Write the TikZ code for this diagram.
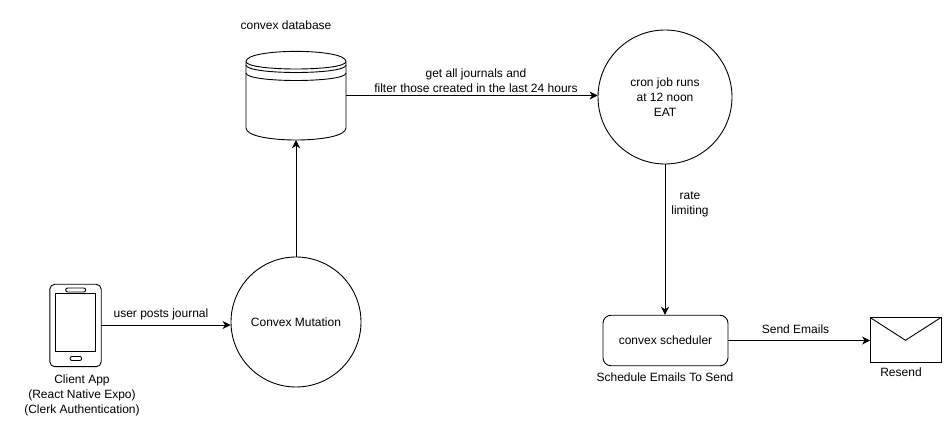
\documentclass[tikz,border=0pt]{standalone}
\usepackage{fontspec}
\setmainfont{Liberation Sans}
\usetikzlibrary{arrows.meta}
\tikzset{
	x=1pt, y=-1pt,
	every node/.style={font=\fontsize{12}{14.8}\selectfont, align=center, inner sep=0pt},
	flow/.style={-{Stealth[length=8pt,width=8pt,inset=2.5pt]}, line width=0.9pt},
	outline/.style={line width=0.9pt},
	roundcircle/.style={circle, draw, line width=0.9pt, minimum size=#1},
	blank/.style={minimum width=#1, rectangle},
}
\begin{document}
\begin{tikzpicture}
	\useasboundingbox (0,0) rectangle (951,435);

	% phone
	\node[blank=51pt, minimum height=82pt] (phone) at (75.5,325.5) {};
	\draw[outline, rounded corners=5pt] (phone.north west) rectangle (phone.south east);
	\draw[outline] (55.3,293.5) rectangle (95.7,351);
	\draw[outline, rounded corners=2pt] (65.7,288) rectangle (85.7,292);
	\draw[outline, rounded corners=2pt] (70,356.5) rectangle (81.7,360.5);
	\node (phonelabel) at (82,395.5) {Client App\\(React Native Expo)\\(Clerk Authentication)};

	% database
	\node[blank=100pt, minimum height=89pt] (db) at (296,95.5) {};
	\node (dblabel) at (286,25) {convex database};
	\draw[outline] (246,61.5) .. controls (246,48) and (346,48) .. (346,61.5)
		-- (346,128) .. controls (346,144) and (246,144) .. (246,128) -- cycle;
	\draw[outline] (246,61.5) .. controls (246,71.5) and (346,71.5) .. (346,61.5);
	\draw[outline] (246,65) .. controls (246,75) and (346,75) .. (346,65);
	\draw[outline] (246,73) .. controls (246,83) and (346,83) .. (346,73);

	% circles and box
	\node[roundcircle=130pt] (mutation) at (296,322) {Convex Mutation};
	\node[roundcircle=134pt] (cron) at (665,97) {cron job runs\\at 12 noon\\EAT};
	\node[draw, rectangle, rounded corners=8pt, line width=0.9pt, minimum width=125pt, minimum height=50.5pt] (scheduler) at (665.5,340.5) {convex scheduler};
	\node (schedulerlabel) at (665,377.5) {Schedule Emails To Send};

	% envelope
	\node[blank=70.5pt, minimum height=45pt] (mail) at (905.5,340.2) {};
	\draw[outline] (mail.north west) rectangle (mail.south east);
	\draw[outline] (mail.north west) -- (905.5,340.3) -- (mail.north east);
	\node (maillabel) at (901,372.5) {Resend};

	% connectors
	\draw[flow] (phone.east |- 0,325) -- (mutation.west |- 0,325);
	\node (postlabel) at (161,314.5) {user posts journal};
	\draw[flow] (mutation) -- (db);
	\draw[flow] (db.east) -- (cron.west |- db.east);
	\node (querylabel) at (476,80.5) {get all journals and\\filter those created in the last 24 hours};
	\draw[flow] (cron) -- (cron |- scheduler.north);
	\node (ratelabel) at (690,204) {rate\\limiting};
	\draw[flow] (scheduler.east) -- (mail.west |- scheduler.east);
	\node (sendlabel) at (795.5,329) {Send Emails};
\end{tikzpicture}
\end{document}
